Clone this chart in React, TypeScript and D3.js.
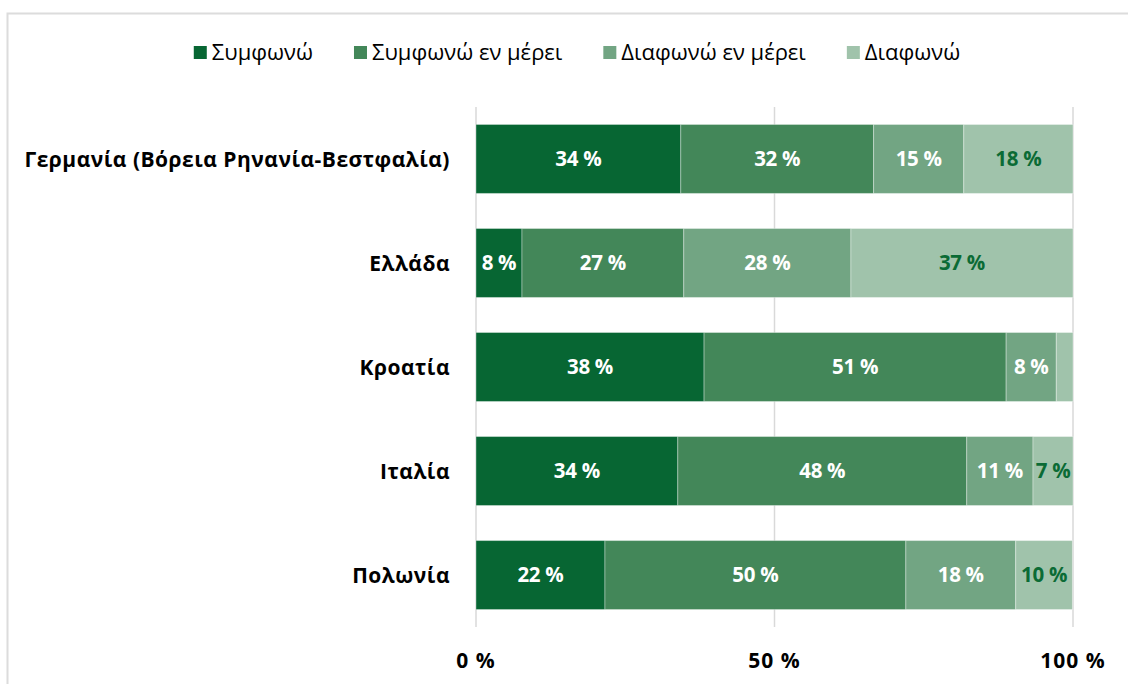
import React, { useEffect, useRef } from 'react';
import * as d3 from 'd3';

const categories = [
  'Γερμανία (Βόρεια Ρηνανία-Βεστφαλία)',
  'Ελλάδα',
  'Κροατία',
  'Ιταλία',
  'Πολωνία',
];

const seriesNames = ['Συμφωνώ', 'Συμφωνώ εν μέρει', 'Διαφωνώ εν μέρει', 'Διαφωνώ'];

// shares (percent)
const agree = [34.3, 7.7, 38.2, 33.8, 21.6];
const partlyAgree = [32.3, 27.1, 50.6, 48.4, 50.4];
const partlyDisagree = [15.1, 28.0, 8.4, 11.1, 18.4];
const disagree = [18.3, 37.2, 2.8, 6.7, 9.5];

// printed labels (empty = no label shown)
const agreeLabels = ['34 %', '8 %', '38 %', '34 %', '22 %'];
const partlyAgreeLabels = ['32 %', '27 %', '51 %', '48 %', '50 %'];
const partlyDisagreeLabels = ['15 %', '28 %', '8 %', '11 %', '18 %'];
const disagreeLabels = ['18 %', '37 %', '', '7 %', '10 %'];

const xTicks = [0, 50, 100];

const colors = ['#076633', '#438759', '#72a583', '#a0c3ab'];
const labelColors = ['#ffffff', '#ffffff', '#ffffff', '#0b6b35'];

const FONT = "'Open Sans', 'Noto Sans', sans-serif";

const App: React.FC = () => {
  const svgRef = useRef<SVGSVGElement | null>(null);

  useEffect(() => {
    const svg = d3.select(svgRef.current);
    svg.selectAll('*').remove();
    const width = 1128;
    const height = 684;
    const margin = { top: 107, right: 55, bottom: 57, left: 476 };

    svg.attr('width', width).attr('height', height);

    // Frame
    svg.append('rect')
      .attr('x', 7.5)
      .attr('y', 13.5)
      .attr('width', 1140)
      .attr('height', 700)
      .attr('fill', '#fff')
      .attr('stroke', '#dcdcdc')
      .attr('stroke-width', 2);

    const x = d3.scaleLinear()
      .domain([0, 100])
      .range([margin.left, width - margin.right]);

    const y = d3.scaleBand()
      .domain(categories)
      .range([margin.top, height - margin.bottom])
      .paddingInner(0.337)
      .paddingOuter(0.168);

    // Gridlines
    svg.append('g')
      .selectAll('line')
      .data(xTicks)
      .enter()
      .append('line')
      .attr('x1', d => x(d))
      .attr('x2', d => x(d))
      .attr('y1', margin.top)
      .attr('y2', height - margin.bottom)
      .attr('stroke', '#d9d9d9')
      .attr('stroke-width', 1.5);

    // Stacked segments
    const values = [agree, partlyAgree, partlyDisagree, disagree];
    const labels = [agreeLabels, partlyAgreeLabels, partlyDisagreeLabels, disagreeLabels];
    const rows = categories.map((c, i) => {
      const row: Record<string, any> = { category: c };
      seriesNames.forEach((s, k) => { row[s] = values[k][i]; });
      return row;
    });
    const stacked = d3.stack<any>().keys(seriesNames)(rows);

    stacked.forEach((layer, k) => {
      const g = svg.append('g');
      g.selectAll('rect')
        .data(layer)
        .enter()
        .append('rect')
        .attr('x', d => x(d[0]))
        .attr('y', d => y(d.data.category) as number)
        .attr('width', d => x(d[1]) - x(d[0]))
        .attr('height', y.bandwidth())
        .attr('fill', colors[k])
        .attr('stroke', 'rgba(255,255,255,0.35)')
        .attr('stroke-width', 1);

      g.selectAll('text')
        .data(layer)
        .enter()
        .append('text')
        .attr('x', d => (x(d[0]) + x(d[1])) / 2)
        .attr('y', d => (y(d.data.category) as number) + y.bandwidth() / 2)
        .attr('dy', '0.36em')
        .attr('text-anchor', 'middle')
        .attr('font-family', FONT)
        .attr('font-weight', 700)
        .attr('font-size', 20.5)
        .attr('letter-spacing', -0.3)
        .attr('fill', labelColors[k])
        .text((d, i) => labels[k][i]);
    });

    // Category labels
    svg.append('g')
      .selectAll('text')
      .data(categories)
      .enter()
      .append('text')
      .attr('x', margin.left - 26)
      .attr('y', d => (y(d) as number) + y.bandwidth() / 2)
      .attr('dy', '0.36em')
      .attr('text-anchor', 'end')
      .attr('font-family', FONT)
      .attr('font-weight', 700)
      .attr('font-size', 21)
      .attr('letter-spacing', 0.5)
      .attr('fill', '#000')
      .text(d => d);

    // X tick labels
    svg.append('g')
      .selectAll('text')
      .data(xTicks)
      .enter()
      .append('text')
      .attr('x', d => x(d))
      .attr('y', 668)
      .attr('text-anchor', 'middle')
      .attr('font-family', FONT)
      .attr('font-weight', 700)
      .attr('font-size', 21)
      .attr('letter-spacing', 1)
      .attr('fill', '#000')
      .text(d => `${d} %`);

    // Legend
    const legend = svg.append('g');
    const items = seriesNames.map((name, k) => {
      const item = legend.append('g');
      item.append('rect')
        .attr('width', 13)
        .attr('height', 13)
        .attr('y', 46)
        .attr('fill', colors[k]);
      const t = item.append('text')
        .attr('x', 18)
        .attr('y', 60)
        .attr('font-family', FONT)
        .attr('font-size', 22)
        .attr('fill', '#000')
        .text(name);
      const w = (t.node() as SVGTextElement).getComputedTextLength();
      return { item, w: 18 + w };
    });
    const gap = 41;
    const total = d3.sum(items, d => d.w) + gap * (items.length - 1);
    let cx = 577 - total / 2;
    items.forEach(d => {
      d.item.attr('transform', `translate(${cx},0)`);
      cx += d.w + gap;
    });
  }, []);

  return (
    <svg ref={svgRef} style={{ position: 'absolute', left: 0, top: 0, display: 'block' }}></svg>
  );
};

export default App;
